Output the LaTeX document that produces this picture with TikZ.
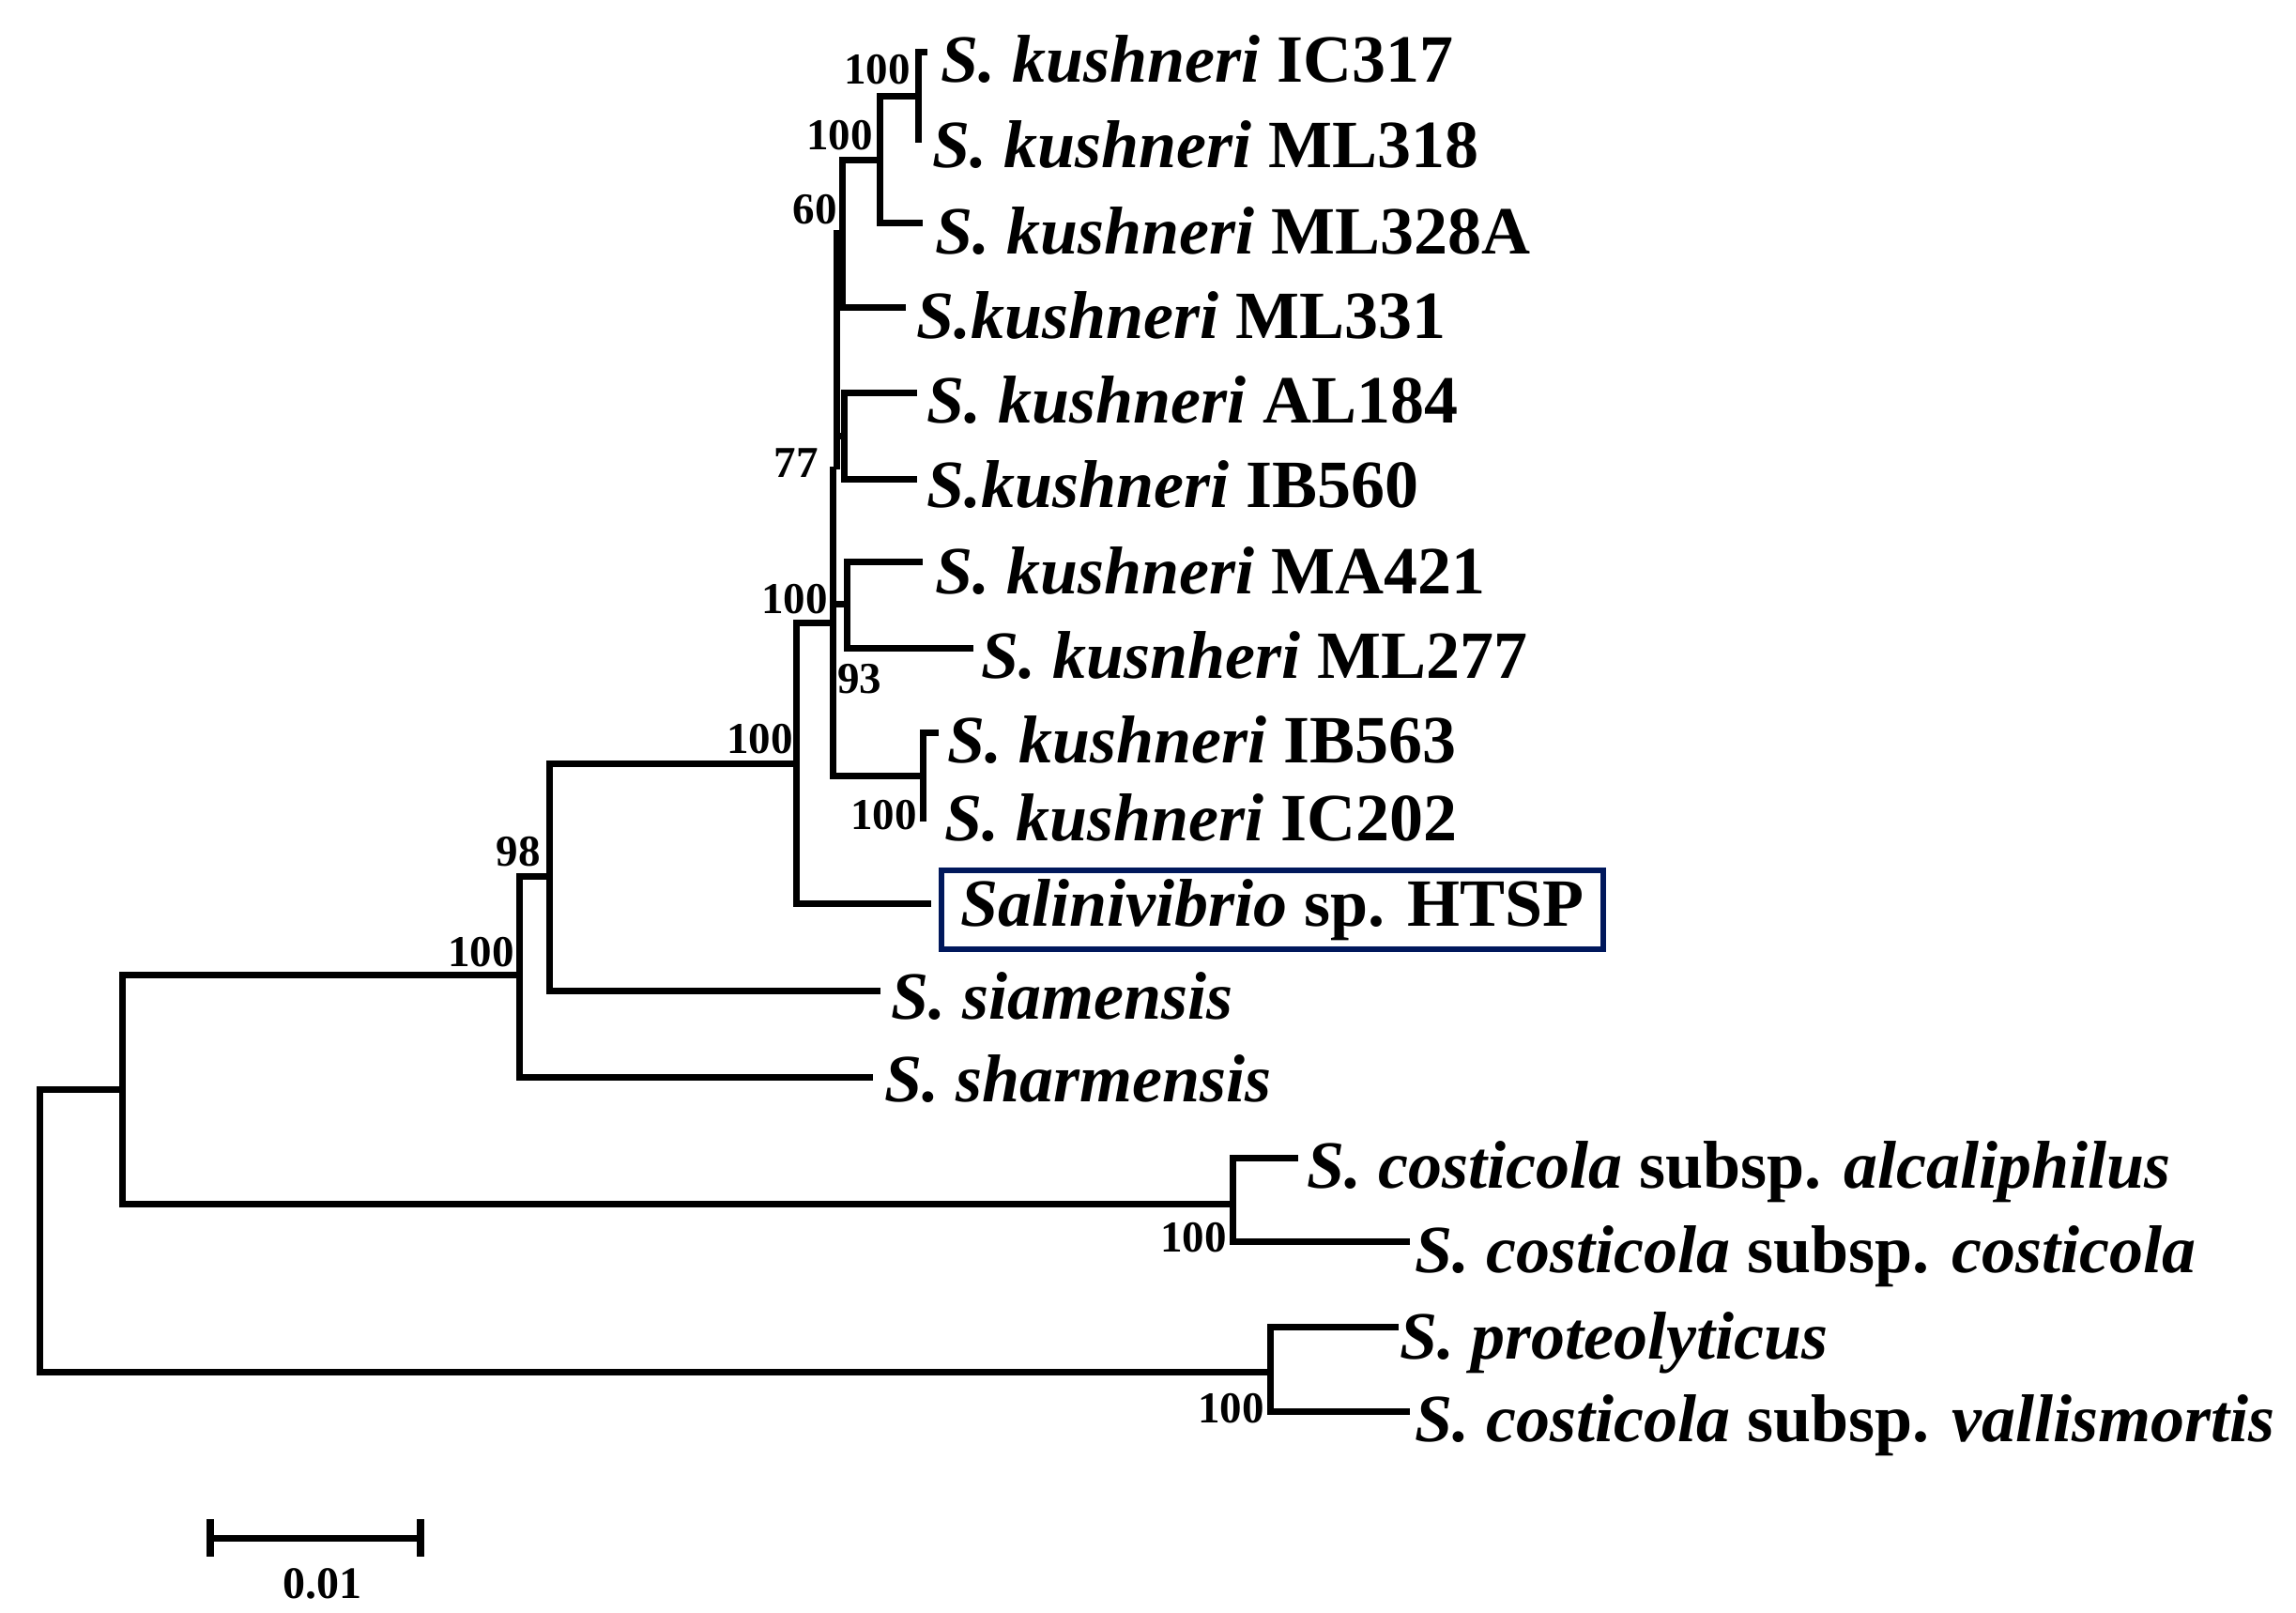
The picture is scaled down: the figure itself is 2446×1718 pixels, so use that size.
\documentclass[tikz,border=0pt]{standalone}
\usepackage{fontspec}
\setmainfont{Liberation Serif}
\definecolor{navy}{RGB}{0,24,92}
\begin{document}
\begin{tikzpicture}[x=1pt,y=-1pt,
  branch/.style={line width=7pt, line join=miter, line cap=butt},
  taxon/.style={anchor=base west, inner sep=0pt, font=\fontsize{72}{86}\selectfont\bfseries},
  boot/.style={anchor=base east, inner sep=0pt, font=\fontsize{47}{56}\selectfont\bfseries},
  hibox/.style={draw=navy, line width=6.5pt, minimum width=705pt, minimum height=84pt, inner sep=0pt, font=\fontsize{72}{86}\selectfont\bfseries}]
\useasboundingbox (0,0) rectangle (2446,1718);
% internal nodes
\coordinate (R) at (42,1310);
\coordinate (A) at (130,1160);
\coordinate (B) at (553,1038);
\coordinate (C) at (585,933);
\coordinate (D) at (848,813);
\coordinate (E) at (887,663);
\coordinate (X) at (891,500);
\coordinate (H) at (897,248);
\coordinate (G) at (937,170);
\coordinate (ICn) at (978,103);
\coordinate (ALIB) at (899,464);
\coordinate (N93) at (902,643);
\coordinate (IBn) at (983,826);
\coordinate (CC) at (1313,1282);
\coordinate (P) at (1353,1461);
% tips
\coordinate (tIC317) at (988,56);
\coordinate (tML318) at (978,152);
\coordinate (tML328A) at (983,237);
\coordinate (tML331) at (965,327);
\coordinate (tAL184) at (977,418);
\coordinate (tIB560) at (977,510);
\coordinate (tMA421) at (983,598);
\coordinate (tML277) at (1037,690);
\coordinate (tIB563) at (1000,780);
\coordinate (tIC202) at (983,875);
\coordinate (tHTSP) at (992,962);
\coordinate (tsiam) at (938,1055);
\coordinate (tsharm) at (930,1147);
\coordinate (talc) at (1383,1233);
\coordinate (tcost) at (1502,1322);
\coordinate (tprot) at (1490,1413);
\coordinate (tvall) at (1502,1503);
% branches
\draw[branch] (R) |- (A);
\draw[branch] (R) |- (P);
\draw[branch] (A) |- (B);
\draw[branch] (A) |- (CC);
\draw[branch] (CC) |- (talc);
\draw[branch] (CC) |- (tcost);
\draw[branch] (P) |- (tprot);
\draw[branch] (P) |- (tvall);
\draw[branch] (B) |- (C);
\draw[branch] (B) |- (tsharm);
\draw[branch] (C) |- (D);
\draw[branch] (C) |- (tsiam);
\draw[branch] (D) |- (E);
\draw[branch] (D) |- (tHTSP);
\draw[branch] (E) |- (X);
\draw[branch] (E) |- (N93);
\draw[branch] (E) |- (IBn);
\draw[branch] (N93) |- (tMA421);
\draw[branch] (N93) |- (tML277);
\draw[branch] (IBn) |- (tIB563);
\draw[branch] (IBn) |- (tIC202);
\draw[branch] (X) |- (H);
\draw[branch] (X) |- (ALIB);
\draw[branch] (ALIB) |- (tAL184);
\draw[branch] (ALIB) |- (tIB560);
\draw[branch] (H) |- (G);
\draw[branch] (H) |- (tML331);
\draw[branch] (G) |- (ICn);
\draw[branch] (G) |- (tML328A);
\draw[branch] (ICn) |- (tIC317);
\draw[branch] (ICn) |- (tML318);
% taxa
\node[taxon] (lIC317) at (1002,88) {\textit{S. kushneri} IC317};
\node[taxon] (lML318) at (993,178) {\textit{S. kushneri} ML318};
\node[taxon] (lML328A) at (996,270) {\textit{S. kushneri} ML328A};
\node[taxon] (lML331) at (976,360) {\textit{S.kushneri} ML331};
\node[taxon] (lAL184) at (987,450) {\textit{S. kushneri} AL184};
\node[taxon] (lIB560) at (987,540) {\textit{S.kushneri} IB560};
\node[taxon] (lMA421) at (996,632) {\textit{S. kushneri} MA421};
\node[taxon] (lML277) at (1045,722) {\textit{S. kusnheri} ML277};
\node[taxon] (lIB563) at (1009,812) {\textit{S. kushneri} IB563};
\node[taxon] (lIC202) at (1006,895) {\textit{S. kushneri} IC202};
\node[hibox] (lHTSP) at (1355.5,969) {\textit{Salinivibrio} sp. HTSP};
\node[taxon] (lsiam) at (949,1085) {\textit{S. siamensis}};
\node[taxon] (lsharm) at (942,1173) {\textit{S. sharmensis}};
\node[taxon] (lalc) at (1392,1265) {\textit{S. costicola} subsp. \textit{alcaliphilus}};
\node[taxon] (lcost) at (1507,1355) {\textit{S. costicola} subsp. \textit{costicola}};
\node[taxon] (lprot) at (1491,1447) {\textit{S. proteolyticus}};
\node[taxon] (lvall) at (1507,1535) {\textit{S. costicola} subsp. \textit{vallismortis}};
% bootstrap values
\node[boot] (b1) at (970,90) {100};
\node[boot] (b2) at (930,160) {100};
\node[boot] (b3) at (892,238) {60};
\node[boot] (b4) at (872,508) {77};
\node[boot] (b5) at (882,653) {100};
\node[boot, anchor=base west] (b6) at (892,738) {93};
\node[boot] (b7) at (977,883) {100};
\node[boot] (b8) at (845,802) {100};
\node[boot] (b9) at (576,922) {98};
\node[boot] (b10) at (548,1029) {100};
\node[boot] (b11) at (1307,1333) {100};
\node[boot] (b12) at (1347,1515) {100};
% scale bar
\coordinate (s1) at (224,1638);
\coordinate (s2) at (448,1638);
\draw[line width=7pt] (s1) -- (s2);
\draw[line width=8pt] ([yshift=20pt]s1) -- ([yshift=-20pt]s1);
\draw[line width=8pt] ([yshift=20pt]s2) -- ([yshift=-20pt]s2);
\node[anchor=base, inner sep=0pt, font=\fontsize{48}{56}\selectfont\bfseries] (sl) at (343,1702) {0.01};
\end{tikzpicture}
\end{document}
